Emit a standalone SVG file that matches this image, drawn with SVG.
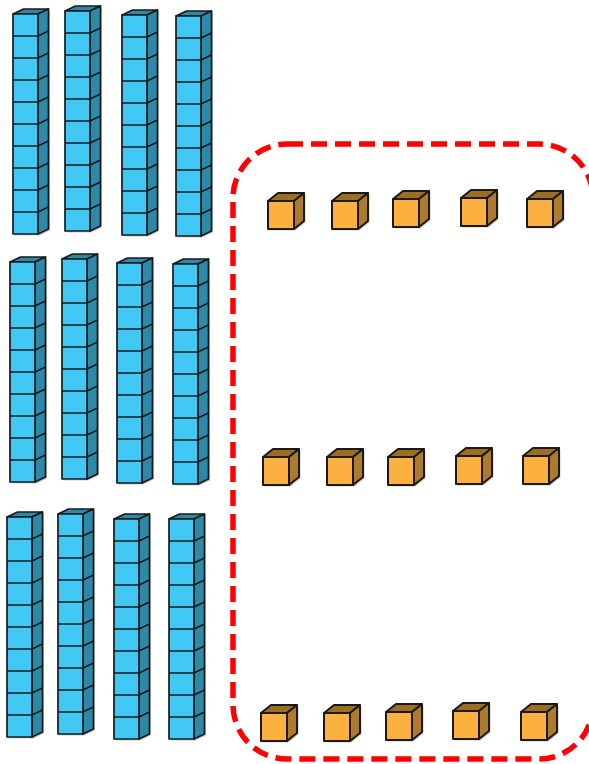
<svg xmlns="http://www.w3.org/2000/svg" xmlns:xlink="http://www.w3.org/1999/xlink" width="589" height="764" viewBox="0 0 589 764">
<style>
.bf{fill:#42C8F4;stroke:#1a1a1a;stroke-width:1.7;stroke-linejoin:round}
.bs{fill:#2C8AA8;stroke:#1a1a1a;stroke-width:1.7;stroke-linejoin:round}
.bl{fill:none;stroke:#1a1a1a;stroke-width:1.7}
.of{fill:#FBB040;stroke:#1a1a1a;stroke-width:2;stroke-linejoin:round}
.ot{fill:#9E6D22;stroke:#1a1a1a;stroke-width:2;stroke-linejoin:round}
.os{fill:#AD7A2E;stroke:#1a1a1a;stroke-width:2;stroke-linejoin:round}
.sh{fill:#888;opacity:0.45}
.box{fill:none;stroke:#FF0000;stroke-width:5.5;stroke-dasharray:16 8}
</style>
<defs>
<g id="rod">
<polygon class="sh" points="1.5,1.5 26.5,1.5 37,-3.5 37,216.5 26.5,221.5 1.5,221.5"/>
<polygon class="bs" points="0,0 25,0 35.5,-5 10.5,-5"/>
<polygon class="bs" points="25,0 35.5,-5 35.5,215 25,220"/>
<rect class="bf" x="0" y="0" width="25" height="220"/>
<path class="bl" d="M0,22H25L35.5,17M0,44H25L35.5,39M0,66H25L35.5,61M0,88H25L35.5,83M0,110H25L35.5,105M0,132H25L35.5,127M0,154H25L35.5,149M0,176H25L35.5,171M0,198H25L35.5,193"/>
</g>
<g id="cube">
<polygon class="sh" points="1.5,1.5 27.5,1.5 37.5,-6.5 37.5,21.5 27.5,29.5 1.5,29.5"/>
<polygon class="ot" points="0,0 26,0 36,-8 10,-8"/>
<polygon class="os" points="26,0 36,-8 36,20 26,28"/>
<rect class="of" x="0" y="0" width="26" height="28"/>
</g>
</defs>
<rect width="589" height="764" fill="#ffffff"/>
<g id="tens">
<use id="rod-1-1" xlink:href="#rod" href="#rod" x="13" y="14"/>
<use id="rod-1-2" xlink:href="#rod" href="#rod" x="65" y="11"/>
<use id="rod-1-3" xlink:href="#rod" href="#rod" x="122" y="15"/>
<use id="rod-1-4" xlink:href="#rod" href="#rod" x="176" y="16"/>
<use id="rod-2-1" xlink:href="#rod" href="#rod" x="10" y="262"/>
<use id="rod-2-2" xlink:href="#rod" href="#rod" x="62" y="259"/>
<use id="rod-2-3" xlink:href="#rod" href="#rod" x="117" y="263"/>
<use id="rod-2-4" xlink:href="#rod" href="#rod" x="173" y="264"/>
<use id="rod-3-1" xlink:href="#rod" href="#rod" x="7" y="517"/>
<use id="rod-3-2" xlink:href="#rod" href="#rod" x="58" y="514"/>
<use id="rod-3-3" xlink:href="#rod" href="#rod" x="114" y="519"/>
<use id="rod-3-4" xlink:href="#rod" href="#rod" x="169" y="519"/>
</g>
<g id="group-box">
<rect class="box" x="233" y="144" width="360" height="615" rx="54" ry="54"/>
</g>
<g id="ones">
<use id="cube-1-1" xlink:href="#cube" href="#cube" x="268" y="201"/>
<use id="cube-1-2" xlink:href="#cube" href="#cube" x="332" y="201"/>
<use id="cube-1-3" xlink:href="#cube" href="#cube" x="393" y="199"/>
<use id="cube-1-4" xlink:href="#cube" href="#cube" x="461" y="198"/>
<use id="cube-1-5" xlink:href="#cube" href="#cube" x="527" y="199"/>
<use id="cube-2-1" xlink:href="#cube" href="#cube" x="263" y="457"/>
<use id="cube-2-2" xlink:href="#cube" href="#cube" x="327" y="457"/>
<use id="cube-2-3" xlink:href="#cube" href="#cube" x="388" y="457"/>
<use id="cube-2-4" xlink:href="#cube" href="#cube" x="456" y="456"/>
<use id="cube-2-5" xlink:href="#cube" href="#cube" x="523" y="456"/>
<use id="cube-3-1" xlink:href="#cube" href="#cube" x="261" y="713"/>
<use id="cube-3-2" xlink:href="#cube" href="#cube" x="324" y="713"/>
<use id="cube-3-3" xlink:href="#cube" href="#cube" x="386" y="712"/>
<use id="cube-3-4" xlink:href="#cube" href="#cube" x="453" y="711"/>
<use id="cube-3-5" xlink:href="#cube" href="#cube" x="521" y="712"/>
</g>
</svg>
